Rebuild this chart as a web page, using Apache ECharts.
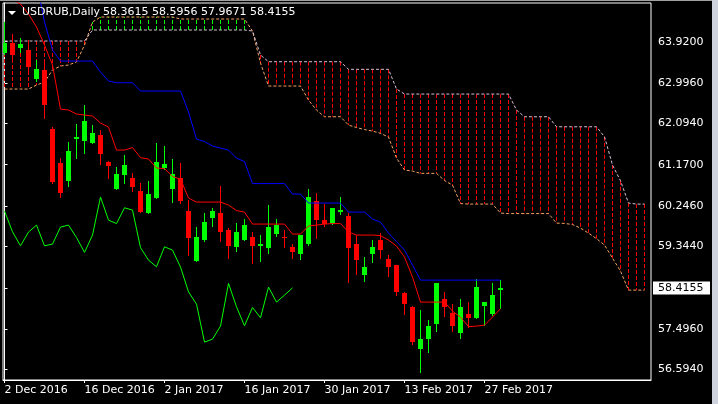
<!DOCTYPE html>
<html><head><meta charset="utf-8">
<script src="https://cdn.jsdelivr.net/npm/echarts@6/dist/echarts.min.js"></script>
<style>html,body{margin:0;padding:0;background:#000;}#c{width:718px;height:404px;}</style>
</head><body><div id="c"></div>
<script>
const symbolName = 'USDRUB,Daily';
const tickIndex = [0, 10, 20, 30, 40, 50, 60];
const tickLabels = ['2 Dec 2016', '16 Dec 2016', '2 Jan 2017', '16 Jan 2017', '30 Jan 2017', '13 Feb 2017', '27 Feb 2017'];
const priceTicks = [63.92, 62.996, 62.094, 61.17, 60.246, 59.344, 57.496, 56.594];

const opens = [63.667, 63.891, 63.790, 63.734, 63.086, 63.287, 61.978, 61.213, 60.804, 61.743,
  61.699, 61.661, 61.833, 61.229, 60.631, 60.945, 60.864, 60.580, 60.095, 60.430,
  61.088, 60.631, 60.871, 60.133, 59.021, 59.484, 59.987, 60.081, 59.708, 59.334,
  59.495, 59.551, 59.356, 59.312, 59.618, 59.551, 59.327, 59.171, 59.394, 60.356,
  59.931, 59.857, 60.117, 60.021, 59.394, 58.701, 59.171, 59.484, 59.059, 58.925,
  58.305, 57.992, 57.045, 57.269, 57.616, 58.164, 57.857, 57.410, 57.828, 57.746,
  58.018, 57.828, 58.3615];
const highs = [64.361, 64.092, 64.003, 63.958, 63.511, 63.444, 62.012, 61.311, 61.676, 62.090,
  62.504, 62.057, 61.945, 61.262, 61.124, 61.385, 60.989, 60.766, 60.804, 61.647,
  61.587, 61.289, 61.200, 60.379, 59.775, 60.088, 60.211, 60.692, 59.752, 59.871,
  59.954, 59.674, 59.596, 60.267, 59.954, 59.708, 59.406, 59.596, 60.625, 60.535,
  60.289, 60.211, 60.446, 60.088, 59.596, 59.110, 59.484, 59.634, 59.148, 58.925,
  58.327, 58.014, 57.918, 57.694, 58.522, 58.314, 58.052, 58.157, 58.097, 58.611,
  58.097, 58.522, 58.5956];
const lows = [63.645, 63.466, 63.690, 63.242, 63.041, 62.213, 60.759, 60.452, 60.698, 61.329,
  61.437, 61.654, 61.177, 60.878, 60.625, 60.766, 60.580, 60.110, 60.088, 60.423,
  61.083, 60.341, 60.323, 59.148, 59.014, 59.473, 59.797, 59.461, 59.092, 59.238,
  59.484, 58.963, 59.021, 59.193, 59.573, 59.320, 59.074, 59.070, 59.372, 59.540,
  59.797, 59.853, 60.077, 58.544, 58.723, 58.567, 58.998, 59.081, 58.685, 58.253,
  57.828, 57.157, 56.537, 56.985, 57.455, 57.790, 57.459, 57.298, 57.544, 57.739,
  57.582, 57.806, 57.9671];
const closes = [63.891, 63.622, 63.880, 63.361, 63.309, 62.515, 60.793, 60.546, 61.475, 61.788,
  62.146, 61.871, 61.419, 61.146, 60.960, 61.162, 60.676, 60.117, 60.513, 61.229,
  61.184, 60.960, 60.356, 59.535, 59.544, 59.886, 60.133, 59.669, 59.356, 59.663,
  59.819, 59.356, 59.394, 59.775, 59.819, 59.540, 59.209, 59.596, 60.446, 59.931,
  59.853, 60.206, 60.155, 59.316, 59.036, 58.886, 59.334, 59.260, 58.880, 58.327,
  58.052, 57.202, 57.269, 57.560, 58.515, 57.992, 57.567, 57.978, 57.746, 58.432,
  58.097, 58.253, 58.4155];

const tenkan = [64.90, 64.85, 64.763, 64.540, 64.249, 63.846, 63.399, 62.414, 62.392, 62.303,
  62.280, 62.258, 62.101, 62.012, 61.497, 61.497, 61.553, 61.329, 61.296, 61.095,
  61.083, 60.904, 60.848, 60.423, 60.334, 60.334, 60.334, 60.334, 60.267, 60.144,
  60.110, 59.842, 59.842, 59.842, 59.842, 59.842, 59.618, 59.618, 59.797, 59.819,
  59.842, 59.853, 59.853, 59.663, 59.596, 59.596, 59.596, 59.584, 59.484, 59.350,
  59.103, 58.656, 58.097, 58.097, 58.097, 58.097, 57.895, 57.761, 57.549, 57.560,
  57.582, 57.761, 57.951];
const kijun = [65.25, 65.25, 65.25, 65.25, 65.25, 64.361, 63.734, 63.488, 63.488, 63.488,
  63.488, 63.488, 63.242, 63.041, 63.003, 63.003, 63.003, 62.817, 62.817, 62.817,
  62.817, 62.817, 62.817, 62.347, 61.743, 61.687, 61.587, 61.542, 61.497, 61.318,
  61.240, 60.748, 60.748, 60.748, 60.748, 60.748, 60.513, 60.513, 60.312, 60.312,
  60.312, 60.312, 60.312, 60.110, 60.110, 60.110, 59.954, 59.886, 59.640, 59.450,
  59.260, 58.925, 58.589, 58.589, 58.589, 58.589, 58.589, 58.589, 58.589, 58.589,
  58.589, 58.589, 58.589];
const spanA = [62.862, 62.862, 62.862, 62.862, 62.951, 63.018, 63.287, 63.376, 63.399, 63.466,
  63.846, 64.361, 64.473, 64.473, 64.473, 64.473, 64.473, 64.473, 64.473, 64.473,
  64.473, 64.473, 64.428, 64.428, 64.428, 64.428, 64.428, 64.428, 64.428, 64.428,
  64.428, 64.159, 63.444, 62.929, 62.929, 62.929, 62.929, 62.929, 62.616, 62.392,
  62.242, 62.242, 62.242, 62.057, 62.001, 61.956, 61.922, 61.871, 61.788, 61.318,
  61.050, 61.027, 60.976, 60.976, 60.976, 60.815, 60.714, 60.300, 60.289, 60.289,
  60.289, 60.289, 60.088, 60.077, 60.077, 60.077, 60.077, 60.077, 60.077, 59.864,
  59.857, 59.831, 59.752, 59.640, 59.517, 59.372, 59.081, 58.790, 58.365, 58.365,
  58.365];
const spanB = [63.936, 63.936, 63.936, 63.936, 63.936, 63.936, 63.936, 63.936, 63.936, 63.936,
  63.936, 64.182, 64.182, 64.182, 64.182, 64.182, 64.182, 64.182, 64.182, 64.182,
  64.182, 64.182, 64.182, 64.182, 64.182, 64.182, 64.182, 64.182, 64.182, 64.182,
  64.182, 64.160, 63.622, 63.473, 63.473, 63.473, 63.473, 63.473, 63.473, 63.473,
  63.473, 63.473, 63.473, 63.303, 63.303, 63.303, 63.303, 63.303, 63.303, 62.862,
  62.750, 62.750, 62.750, 62.750, 62.750, 62.750, 62.750, 62.750, 62.750, 62.750,
  62.750, 62.750, 62.750, 62.750, 62.392, 62.242, 62.242, 62.242, 62.242, 62.018,
  62.018, 62.018, 62.018, 62.018, 62.018, 61.795, 61.162, 60.810, 60.312, 60.289,
  60.289];
const chikouShift = 26;

const X_MIN = -0.1875, X_MAX = 80.8125;
const Y_MIN = 56.355, Y_MAX = 64.786;
const FONT = 'DejaVu Sans';
const last = closes.length - 1;

const candleData = opens.map((o, i) => [i, o, closes[i], lows[i], highs[i]]);
const chikouData = closes.slice(chikouShift).map((c, i) => [i, c]);
const kumoData = spanA.map((a, i) => [i, a, spanB[i]]);
const toXY = arr => arr.map((v, i) => [i, v]);

const chart = echarts.init(document.getElementById('c'), null, {renderer: 'canvas'});
chart.setOption({
  animation: false,
  backgroundColor: '#000',
  title: [
    {text: symbolName, left: 22, top: 7, padding: 0,
     textStyle: {color: '#fff', fontSize: 11, fontWeight: 'normal', fontFamily: FONT}},
    {text: [opens[last], highs[last], lows[last], closes[last]].map(v => v.toFixed(4)).join(' '),
     left: 103, top: 7, padding: 0,
     textStyle: {color: '#fff', fontSize: 11, fontWeight: 'normal', fontFamily: FONT}}
  ],
  graphic: [
    {type: 'polygon', shape: {points: [[8, 11], [16, 11], [12, 15]]}, style: {fill: '#fff'}},
    {type: 'rect', shape: {x: 0, y: 0, width: 718, height: 1}, style: {fill: '#a0a0a0'}},
    {type: 'rect', shape: {x: 712, y: 0, width: 6, height: 404}, style: {fill: '#cdd2dc'}}
  ],
  grid: {left: 3, top: 3, right: 67, bottom: 24, show: true, borderColor: '#fff', borderWidth: 1, backgroundColor: '#000'},
  xAxis: {
    type: 'value', min: X_MIN, max: X_MAX,
    axisLine: {show: true, lineStyle: {color: '#fff', width: 1}},
    axisTick: {show: true, length: 3, customValues: tickIndex, lineStyle: {color: '#fff'}},
    axisLabel: {customValues: tickIndex, formatter: v => tickLabels[tickIndex.indexOf(Math.round(v))] || '',
      align: 'left', color: '#fff', fontSize: 11, fontFamily: FONT, margin: 5},
    splitLine: {show: false}
  },
  yAxis: {
    type: 'value', position: 'right', min: Y_MIN, max: Y_MAX,
    axisLine: {show: true, lineStyle: {color: '#fff', width: 1}},
    axisTick: {show: true, length: 3, customValues: priceTicks.concat([closes[last]]), lineStyle: {color: '#fff'}},
    axisLabel: {customValues: priceTicks, formatter: v => v.toFixed(4), color: '#fff', fontSize: 11, fontFamily: FONT, margin: 7},
    splitLine: {show: false}
  },
  series: [
    {
      type: 'custom', name: 'kumo', z: 1, clip: true,
      data: kumoData,
      renderItem: (params, api) => {
        const i = api.value(0), a = api.value(1), b = api.value(2);
        const pa = api.coord([i, a]), pb = api.coord([i, b]);
        const x = Math.round(pa[0] - 0.5) + 0.5;
        return {type: 'line', shape: {x1: x, y1: pb[1], x2: x, y2: pa[1]},
          style: {stroke: a >= b ? '#00ff00' : '#ff0000', lineWidth: 1, lineDash: [4, 2]}};
      }
    },
    {type: 'line', name: 'Senkou A', z: 2, data: toXY(spanA), symbol: 'none', showSymbol: false,
      lineStyle: {color: '#f4a460', width: 1, type: [3, 2]}},
    {type: 'line', name: 'Senkou B', z: 2, data: toXY(spanB), symbol: 'none', showSymbol: false,
      lineStyle: {color: '#d8bfd8', width: 1, type: [3, 2]}},
    {
      type: 'custom', name: 'candles', z: 3, clip: true,
      data: candleData,
      renderItem: (params, api) => {
        const i = api.value(0), o = api.value(1), c = api.value(2), l = api.value(3), h = api.value(4);
        const pO = api.coord([i, o]), pC = api.coord([i, c]), pL = api.coord([i, l]), pH = api.coord([i, h]);
        const x = Math.round(pO[0] - 0.5) + 0.5;
        const color = c >= o ? '#00ff00' : '#ff0000';
        const top = Math.round(Math.min(pO[1], pC[1])), bot = Math.round(Math.max(pO[1], pC[1]));
        return {type: 'group', children: [
          {type: 'line', shape: {x1: x, y1: Math.round(pH[1]), x2: x, y2: Math.round(pL[1]) + 1}, style: {stroke: color, lineWidth: 1}},
          {type: 'rect', shape: {x: x - 2.5, y: top, width: 5, height: Math.max(1, bot - top)}, style: {fill: color}}
        ]};
      }
    },
    {type: 'line', name: 'Chikou', z: 4, data: chikouData, symbol: 'none', showSymbol: false,
      lineStyle: {color: '#00ff00', width: 1}},
    {type: 'line', name: 'Tenkan', z: 4, data: toXY(tenkan), symbol: 'none', showSymbol: false,
      lineStyle: {color: '#ff0000', width: 1}},
    {type: 'line', name: 'Kijun', z: 4, data: toXY(kijun), symbol: 'none', showSymbol: false,
      lineStyle: {color: '#0000ff', width: 1}},
    {
      type: 'custom', name: 'price', z: 10, clip: false,
      data: [[X_MAX, closes[last]]],
      renderItem: (params, api) => {
        const p = api.coord([api.value(0), api.value(1)]);
        const cy = Math.round(p[1]);
        return {type: 'group', children: [
          {type: 'rect', shape: {x: p[0] + 2, y: cy - 6.5, width: 57, height: 13}, style: {fill: '#fff'}},
          {type: 'text', style: {x: p[0] + 7, y: cy, text: api.value(1).toFixed(4), fill: '#000',
            font: '11px "DejaVu Sans"', verticalAlign: 'middle', align: 'left'}}
        ]};
      }
    }
  ]
});
</script>
</body></html>
